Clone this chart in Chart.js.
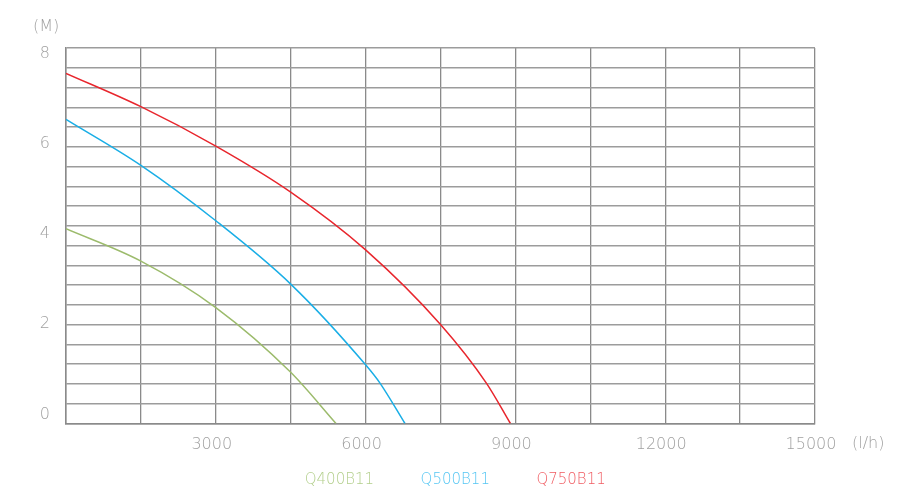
<!DOCTYPE html>
<html lang="en">
<head>
    <meta charset="UTF-8">
    <title>Pump curves</title>
    <script src="https://cdn.jsdelivr.net/npm/chart.js"></script>
    <style>
        body { margin: 0; background: #fff; }
        #wrap { width: 900px; height: 500px; }
    </style>
</head>
<body>
    <div id="wrap"><canvas id="curvas" width="900" height="500"></canvas></div>

    <script>
        // values (flow in l/h, head in m)
        const models = ['Q400B11', 'Q500B11', 'Q750B11'];
        const q400Flow = [0, 1500, 3000, 4500, 5407];
        const q400Head = [4.15, 3.46, 2.47, 1.09, 0];
        const q500Flow = [0, 1500, 3000, 4500, 6000, 6288, 6788];
        const q500Head = [6.48, 5.50, 4.32, 2.97, 1.25, 0.86, 0];
        const q750Flow = [0, 1500, 3000, 4500, 6000, 7500, 8419, 8900];
        const q750Head = [7.46, 6.75, 5.91, 4.93, 3.70, 2.11, 0.86, 0];
        const xTicks = [0, 1500, 3000, 4500, 6000, 7500, 9000, 10500, 12000, 13500, 15000];
        const yLabels = [0, 2, 4, 6, 8];

        const lineColors = ['#9cbb6c', '#1aaee6', '#e8262d'];
        const legendColors = ['#b3cf8c', '#55c6f3', '#f05c62'];
        const gray = '#a0a0a0';

        function pares(xs, ys) {
            return xs.map((x, i) => ({ x: x, y: ys[i] }));
        }

        Chart.defaults.font.family = "'DejaVu Sans', sans-serif";
        Chart.defaults.font.weight = '200';
        Chart.defaults.color = gray;

        const series = [pares(q400Flow, q400Head), pares(q500Flow, q500Head), pares(q750Flow, q750Head)];

        new Chart(document.getElementById('curvas'), {
            type: 'line',
            data: {
                datasets: series.map((d, i) => ({
                    label: models[i],
                    data: d,
                    borderColor: lineColors[i],
                    borderWidth: 1.5,
                    pointRadius: 0,
                    fill: false,
                    cubicInterpolationMode: 'monotone',
                    xAxisID: 'x',
                    yAxisID: 'y'
                }))
            },
            options: {
                responsive: false,
                animation: false,
                layout: { padding: { left: 33, right: 10, top: 13, bottom: 2.5 } },
                plugins: {
                    tooltip: { enabled: false },
                    title: {
                        display: true,
                        text: '(M)',
                        align: 'start',
                        color: gray,
                        font: { size: 16, weight: '200' },
                        padding: { top: 4, bottom: 11.8 }
                    },
                    legend: {
                        position: 'bottom',
                        fullSize: false,
                        labels: {
                            boxWidth: 22,
                            padding: 17,
                            font: { size: 15, weight: '200' },
                            generateLabels: chart => chart.data.datasets.map((ds, i) => ({
                                text: ds.label,
                                fontColor: legendColors[i],
                                fillStyle: 'rgba(0,0,0,0)',
                                strokeStyle: 'rgba(0,0,0,0)',
                                lineWidth: 0,
                                hidden: false,
                                datasetIndex: i
                            }))
                        }
                    }
                },
                scales: {
                    x: {
                        type: 'linear',
                        min: 0,
                        max: 15000,
                        afterBuildTicks: s => { s.ticks = xTicks.map(v => ({ value: v })); },
                        afterFit: s => { s.height = 32; },
                        grid: { color: '#8a8a8a', lineWidth: 1.3, drawTicks: false },
                        border: { color: '#8a8a8a', width: 1.5 },
                        ticks: {
                            padding: 12,
                            labelOffset: -4,
                            maxRotation: 0,
                            autoSkip: false,
                            font: { size: 16, weight: '200' },
                            callback: v => (v > 0 && v % 3000 === 0) ? String(v) : ''
                        }
                    },
                    y: {
                        type: 'linear',
                        position: 'left',
                        weight: 0,
                        min: 0,
                        max: 8,
                        afterBuildTicks: s => {
                            s.ticks = Array.from({ length: 20 }, (_, i) => ({ value: i * 8 / 19 }));
                        },
                        afterFit: s => { s.width = 0; },
                        grid: { color: '#9c9c9c', lineWidth: 1.5, drawTicks: false },
                        border: { color: '#8a8a8a', width: 1.5 },
                        ticks: { display: false }
                    },
                    yl: {
                        type: 'linear',
                        position: 'left',
                        weight: 1,
                        min: -0.2,
                        max: 8.13,
                        afterBuildTicks: s => { s.ticks = yLabels.map(v => ({ value: v })); },
                        afterFit: s => { s.width = 33; },
                        grid: { display: false, drawTicks: false },
                        border: { display: false },
                        ticks: { padding: 16, font: { size: 16, weight: '200' } }
                    },
                    yr: {
                        type: 'linear',
                        position: 'right',
                        min: 0,
                        max: 8,
                        afterBuildTicks: s => { s.ticks = [{ value: -0.43 }]; },
                        afterFit: s => { s.width = 75; },
                        grid: { display: false, drawTicks: false },
                        border: { display: false },
                        ticks: {
                            padding: 37,
                            font: { size: 16, weight: '200' },
                            callback: () => '(l/h)'
                        }
                    }
                }
            }
        });
    </script>
</body>
</html>
